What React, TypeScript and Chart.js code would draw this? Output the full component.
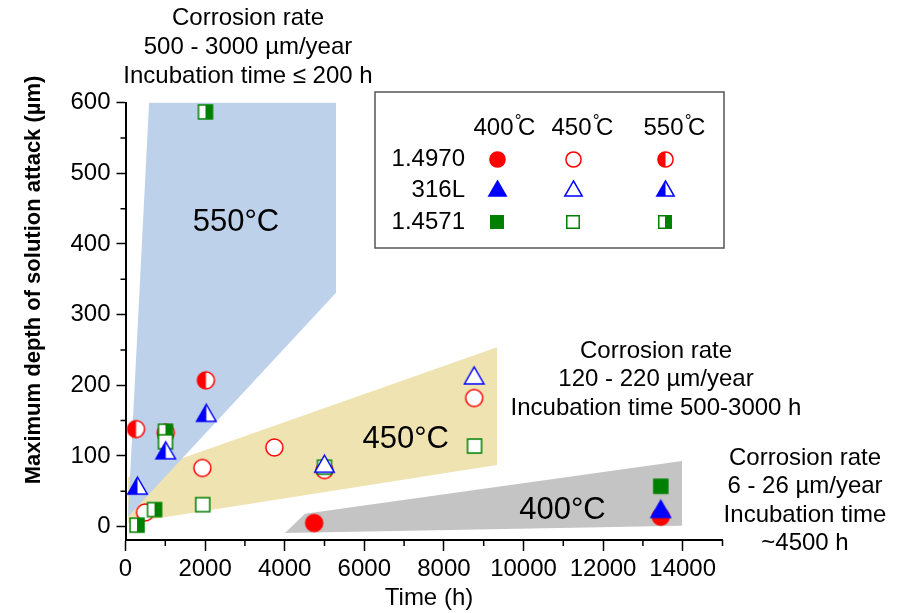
import React, { useEffect, useRef } from 'react';
import { Chart, registerables } from 'chart.js';

Chart.register(...registerables);

// ---------- data ----------
const xTickValues = [0, 1000, 2000, 3000, 4000, 5000, 6000, 7000, 8000, 9000, 10000, 11000, 12000, 13000, 14000, 15000];
const yTickValues = [0, 50, 100, 150, 200, 250, 300, 350, 400, 450, 500, 550, 600];

// [time (h), max depth (µm)]
const s14970_400 = [[4740, 5], [13450, 14]];
const s14970_450 = [[490, 20], [1930, 83], [3740, 112], [5000, 80], [8760, 182]];
const s14970_550 = [[264, 138], [1010, 133], [2020, 207]];
const s316L_400 = [[13450, 25]];
const s316L_450 = [[5000, 89], [8760, 214]];
const s316L_550 = [[300, 58], [1010, 108], [2030, 161]];
const s14571_400 = [[13450, 57]];
const s14571_450 = [[1005, 120], [1940, 31], [5000, 84], [8770, 114]];
const s14571_550 = [[290, 2], [730, 24], [1005, 135], [2010, 587]];

// shaded regions [time, depth]
const region550 = [[598, 606], [5290, 606], [5290, 331], [63, 14], [598, 606]];
const region450 = [[60, 5], [60, 70], [1796, 104], [9334, 254], [9334, 87], [60, 5]];
const region400 = [[4008, -9], [4510, 18], [13982, 93], [13982, 1], [4008, -9]];

const rowLabels = ['1.4970', '316L', '1.4571'];
const colLabels = ['400', '450', '550'];

// ---------- styles / layout ----------
const FONT = '"Liberation Sans", Arial, Helvetica, sans-serif';
const RED = '#ff0000';
const BLUE = '#0000ff';
const GREEN = '#008000';
const C550 = '#bdd1ea';
const C450 = '#efe3b2';
const C400 = '#c4c4c4';

type Shape = 'circle' | 'triangle' | 'square';
type Mode = 'full' | 'open' | 'half';

function makeMarker(shape: Shape, mode: Mode, color: string, k = 1): HTMLCanvasElement {
  const w = (shape === 'circle' ? 18.5 : shape === 'triangle' ? 21 : 15.5) * k;
  const h = (shape === 'circle' ? 18.5 : shape === 'triangle' ? 18.5 : 15.5) * k;
  const W = Math.ceil(w + 2);
  const H = Math.ceil(h + 2);
  const c = document.createElement('canvas');
  c.width = W;
  c.height = H;
  const ctx = c.getContext('2d')!;
  const cx = W / 2;
  const cy = H / 2;
  const lw = 1.5;
  const path = () => {
    ctx.beginPath();
    if (shape === 'circle') ctx.arc(cx, cy, w / 2 - lw / 2, 0, Math.PI * 2);
    else if (shape === 'triangle') {
      ctx.moveTo(cx, cy - h / 2 + lw / 2);
      ctx.lineTo(cx + w / 2 - lw / 2, cy + h / 2 - lw / 2);
      ctx.lineTo(cx - w / 2 + lw / 2, cy + h / 2 - lw / 2);
      ctx.closePath();
    } else ctx.rect(cx - w / 2 + lw / 2, cy - h / 2 + lw / 2, w - lw, h - lw);
  };
  path();
  ctx.fillStyle = mode === 'full' ? color : '#ffffff';
  ctx.fill();
  if (mode === 'half') {
    ctx.save();
    path();
    ctx.clip();
    ctx.fillStyle = color;
    if (shape === 'square') ctx.fillRect(cx, 0, W, H);
    else ctx.fillRect(0, 0, cx, H);
    ctx.restore();
  }
  path();
  ctx.lineWidth = lw;
  ctx.strokeStyle = color;
  ctx.stroke();
  return c;
}

const toXY = (arr: number[][]) => arr.map(([x, y]) => ({ x, y }));

export default function App() {
  const ref = useRef<HTMLCanvasElement | null>(null);

  useEffect(() => {
    if (!ref.current) return;
    const shapes: Shape[] = ['circle', 'triangle', 'square'];
    const colors = [RED, BLUE, GREEN];
    const modes: Mode[] = ['full', 'open', 'half'];
    const M = shapes.map((s, i) => modes.map((m) => makeMarker(s, m, colors[i])));
    const L = shapes.map((s, i) => modes.map((m) => makeMarker(s, m, colors[i], 0.9)));

    const series = [
      { data: s316L_400, m: M[1][0], order: 1 },
      { data: s316L_450, m: M[1][1], order: 1 },
      { data: s316L_550, m: M[1][2], order: 1 },
      { data: s14571_400, m: M[2][0], order: 2 },
      { data: s14571_450, m: M[2][1], order: 2 },
      { data: s14571_550, m: M[2][2], order: 2 },
      { data: s14970_400, m: M[0][0], order: 3 },
      { data: s14970_450, m: M[0][1], order: 3 },
      { data: s14970_550, m: M[0][2], order: 3 },
    ];

    const regionDs = (d: number[][], color: string) => ({
      type: 'line' as const,
      data: toXY(d),
      fill: 'shape',
      backgroundColor: color,
      borderWidth: 0,
      borderColor: color,
      pointRadius: 0,
      tension: 0,
      order: 10,
      clip: false as const,
    });

    const minorTicks = {
      id: 'minorTicks',
      afterDraw(chart: any) {
        const ctx = chart.ctx;
        const xs = chart.scales.x;
        const ys = chart.scales.y;
        ctx.save();
        ctx.strokeStyle = '#000';
        ctx.lineWidth = 1.5;
        ctx.beginPath();
        xTickValues.forEach((v) => {
          if (v % 2000 !== 0) {
            const px = xs.getPixelForValue(v);
            ctx.moveTo(px, chart.chartArea.bottom);
            ctx.lineTo(px, chart.chartArea.bottom + 6);
          }
        });
        yTickValues.forEach((v) => {
          if (v % 100 !== 0) {
            const py = ys.getPixelForValue(v);
            ctx.moveTo(chart.chartArea.left, py);
            ctx.lineTo(chart.chartArea.left - 5, py);
          }
        });
        ctx.stroke();
        ctx.restore();
      },
    };

    const textPlugin = {
      id: 'texts',
      afterDatasetsDraw(chart: any) {
        const ctx = chart.ctx;
        const xs = chart.scales.x;
        const ys = chart.scales.y;
        ctx.save();
        ctx.fillStyle = '#000';
        ctx.textAlign = 'center';
        ctx.textBaseline = 'middle';
        // region labels
        ctx.font = `31px ${FONT}`;
        ctx.fillText('550°C', xs.getPixelForValue(2776), ys.getPixelForValue(431));
        ctx.fillText('450°C', xs.getPixelForValue(7040), ys.getPixelForValue(124));
        ctx.fillText('400°C', xs.getPixelForValue(10980), ys.getPixelForValue(23));
        ctx.restore();
      },
      afterDraw(chart: any) {
        const ctx = chart.ctx;
        ctx.save();
        ctx.fillStyle = '#000';
        ctx.textAlign = 'center';
        ctx.textBaseline = 'middle';
        ctx.font = `24px ${FONT}`;
        const block = (lines: string[], cx: number, y0: number, dy: number) =>
          lines.forEach((t, i) => ctx.fillText(t, cx, y0 + i * dy));
        block(['Corrosion rate', '500 - 3000 µm/year', 'Incubation time ≤ 200 h'], 248, 18, 29);
        block(['Corrosion rate', '120 - 220 µm/year', 'Incubation time 500-3000 h'], 656, 351, 28.5);
        block(['Corrosion rate', '6 - 26 µm/year', 'Incubation time', '~4500 h'], 805, 458, 28.5);
        // axis titles
        ctx.fillText('Time (h)', 429, 598);
        ctx.save();
        ctx.translate(34, 280);
        ctx.rotate(-Math.PI / 2);
        ctx.font = `bold 22px ${FONT}`;
        ctx.fillText('Maximum depth of solution attack (µm)', 0, 0);
        ctx.restore();

        // legend box
        ctx.fillStyle = '#fff';
        ctx.fillRect(375, 92, 349, 156);
        ctx.strokeStyle = '#555';
        ctx.lineWidth = 1.5;
        ctx.strokeRect(375, 92, 349, 156);
        ctx.fillStyle = '#000';
        const headX = [473.5, 551.5, 643.5];
        colLabels.forEach((t, i) => {
          ctx.textAlign = 'left';
          ctx.font = `24px ${FONT}`;
          const w = ctx.measureText(t).width;
          ctx.fillText(t, headX[i], 128);
          ctx.fillText('C', headX[i] + w + 4.5, 128);
          ctx.font = `17px ${FONT}`;
          ctx.textAlign = 'center';
          ctx.fillText('°', headX[i] + w + 4.5, 121);
        });
        ctx.font = `24px ${FONT}`;
        ctx.textAlign = 'right';
        const rowY = [159, 190, 222];
        rowLabels.forEach((t, i) => ctx.fillText(t, 465, rowY[i]));
        const colX = [497, 573, 665];
        const mY = [159, 188, 222];
        for (let r = 0; r < 3; r++) {
          for (let c = 0; c < 3; c++) {
            const img = L[r][c];
            ctx.drawImage(img, Math.round(colX[c] - img.width / 2), Math.round(mY[r] - img.height / 2));
          }
        }
        ctx.restore();
      },
    };

    const chart = new Chart(ref.current, {
      type: 'scatter',
      data: {
        datasets: [
          ...series.map((s) => ({
            type: 'scatter' as const,
            data: toXY(s.data),
            pointStyle: s.m,
            pointRadius: 10,
            order: s.order,
          })),
          regionDs(region550, C550),
          regionDs(region450, C450),
          regionDs(region400, C400),
        ] as any,
      },
      options: {
        responsive: false,
        animation: false,
        events: [],
        layout: { padding: { left: 0, right: 176.5, top: 102.7, bottom: 0 } },
        plugins: { legend: { display: false }, tooltip: { enabled: false } },
        scales: {
          x: {
            type: 'linear',
            min: 0,
            max: 15000,
            afterBuildTicks: (s: any) => {
              s.ticks = xTickValues.map((v) => ({ value: v }));
            },
            afterFit: (s: any) => {
              s.height = 73;
            },
            ticks: {
              autoSkip: false,
              maxRotation: 0,
              padding: 4,
              color: '#000',
              font: { family: FONT, size: 24 },
              callback: (v: any) => (Number(v) % 2000 === 0 ? String(v) : ''),
            },
            grid: {
              display: true,
              drawOnChartArea: false,
              tickLength: 11,
              tickWidth: 1.5,
              tickColor: (c: any) => (c.tick && c.tick.value % 2000 === 0 ? '#000' : 'rgba(0,0,0,0)'),
            },
            border: { display: true, color: '#000', width: 2 },
          },
          y: {
            type: 'linear',
            min: -19,
            max: 600,
            afterBuildTicks: (s: any) => {
              s.ticks = yTickValues.map((v) => ({ value: v }));
            },
            afterFit: (s: any) => {
              s.width = 125.5;
            },
            ticks: {
              autoSkip: false,
              padding: 6,
              color: '#000',
              font: { family: FONT, size: 24 },
              callback: (v: any) => (Number(v) % 100 === 0 ? String(v) : ''),
            },
            grid: {
              display: true,
              drawOnChartArea: false,
              tickLength: 9,
              tickWidth: 1.5,
              tickColor: (c: any) => (c.tick && c.tick.value % 100 === 0 ? '#000' : 'rgba(0,0,0,0)'),
            },
            border: { display: true, color: '#000', width: 2 },
          },
        },
      },
      plugins: [minorTicks, textPlugin],
    } as any);
    return () => chart.destroy();
  }, []);

  return (
    <div style={{ position: 'absolute', left: 0, top: 0, width: 899, height: 613, background: '#fff' }}>
      <canvas ref={ref} width={899} height={613} style={{ display: 'block' }} />
    </div>
  );
}
